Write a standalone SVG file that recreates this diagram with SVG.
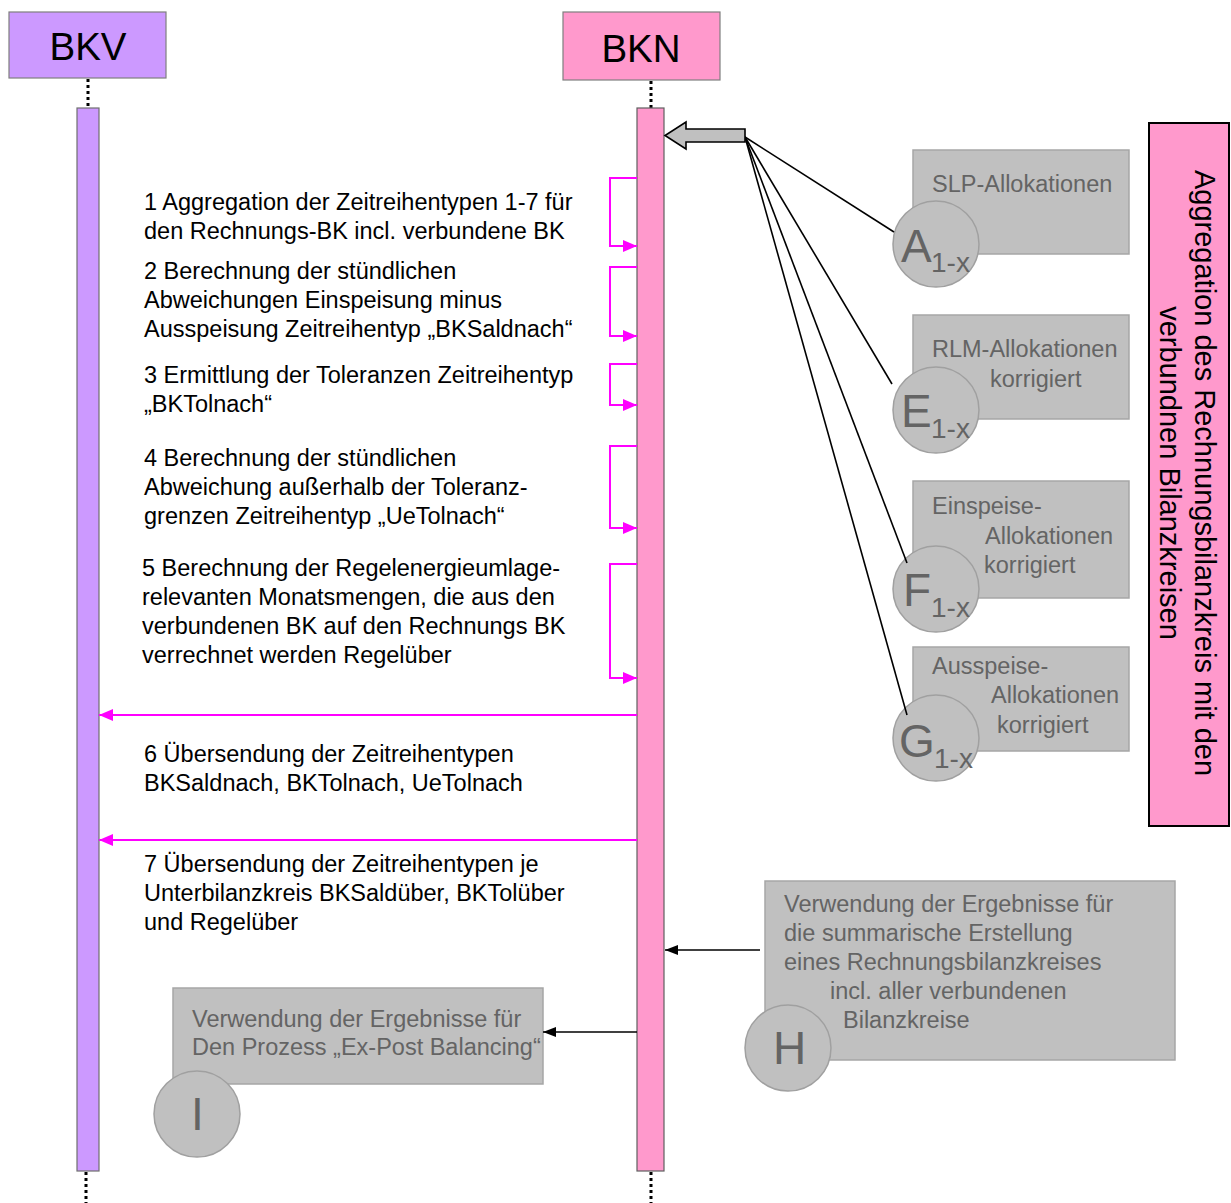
<svg xmlns="http://www.w3.org/2000/svg" width="1231" height="1203" viewBox="0 0 1231 1203">
  <style>
    .lbl { font-family: "Liberation Sans", Arial, sans-serif; font-size: 23.5px; fill: #000; }
    .gtx { font-family: "Liberation Sans", Arial, sans-serif; font-size: 23.5px; fill: #646464; }
    .big { font-family: "Liberation Sans", Arial, sans-serif; font-size: 46px; fill: #646464; }
    .sub { font-family: "Liberation Sans", Arial, sans-serif; font-size: 28px; fill: #646464; }
    .head { font-family: "Liberation Sans", Arial, sans-serif; font-size: 38.5px; fill: #000; text-anchor: middle; }
    .vert { font-family: "Liberation Sans", Arial, sans-serif; font-size: 29px; fill: #000; text-anchor: middle; }
    .gbox { fill: #c0c0c0; stroke: #a6a6a6; stroke-width: 1.5; }
    .gcirc { fill: #c0c0c0; stroke: #a0a0a0; stroke-width: 1.5; }
    .life { stroke: #000; stroke-width: 3; stroke-dasharray: 3 3; fill: none; }
    .mag { stroke: #ff00ff; stroke-width: 2; fill: none; }
    .blk { stroke: #000; stroke-width: 1.6; fill: none; }
  </style>
  <defs>
    <marker id="mArr" markerWidth="14" markerHeight="12" refX="14" refY="6" orient="auto" markerUnits="userSpaceOnUse">
      <path d="M0,0 L14,6 L0,12 Z" fill="#ff00ff"/>
    </marker>
    <marker id="bArr" markerWidth="13" markerHeight="10" refX="13" refY="5" orient="auto" markerUnits="userSpaceOnUse">
      <path d="M0,0 L13,5 L0,10 Z" fill="#000"/>
    </marker>
  </defs>

  <!-- lifelines (dotted parts) -->
  <g id="lifelines">
    <line class="life" x1="88" y1="79" x2="88" y2="108"/>
    <line class="life" x1="651" y1="81" x2="651" y2="108"/>
    <line class="life" x1="86" y1="1172" x2="86" y2="1203"/>
    <line class="life" x1="651" y1="1172" x2="651" y2="1203"/>
  </g>

  <!-- participants -->
  <g id="bkv">
    <rect x="9" y="12" width="157" height="66" fill="#cc99ff" stroke="#7f7f7f" stroke-width="1.2"/>
    <text class="head" x="88" y="60">BKV</text>
    <rect x="77" y="108" width="22" height="1063" fill="#cc99ff" stroke="#6f6f6f" stroke-width="1.2"/>
  </g>
  <g id="bkn">
    <rect x="563" y="12" width="157" height="68" fill="#ff99cc" stroke="#7f7f7f" stroke-width="1.2"/>
    <text class="head" x="641" y="62">BKN</text>
    <rect x="637" y="108" width="27" height="1063" fill="#ff99cc" stroke="#5f5f5f" stroke-width="1.2"/>
  </g>

  <!-- grouping box on the right -->
  <g id="aggregation">
    <rect x="1149" y="123" width="80" height="703" fill="#ff99cc" stroke="#000" stroke-width="2"/>
    <g transform="translate(1189,473) rotate(90)">
      <text class="vert" x="0" y="-6">Aggregation des Rechnungsbilanzkreis mit den</text>
      <text class="vert" x="0" y="29">verbundnen Bilanzkreisen</text>
    </g>
  </g>

  <!-- allocation sources -->
  <g id="nodeA">
    <rect class="gbox" x="913" y="150" width="216" height="104"/>
    <text class="gtx" x="932" y="192">SLP-Allokationen</text>
    <circle class="gcirc" cx="936" cy="244" r="43"/>
    <text class="big" x="901" y="262">A</text><text class="sub" x="931" y="272">1-x</text>
  </g>
  <g id="nodeE">
    <rect class="gbox" x="913" y="315" width="216" height="104"/>
    <text class="gtx" x="932" y="357">RLM-Allokationen</text>
    <text class="gtx" x="990" y="387">korrigiert</text>
    <circle class="gcirc" cx="936" cy="410" r="43"/>
    <text class="big" x="901" y="427">E</text><text class="sub" x="931" y="438">1-x</text>
  </g>
  <g id="nodeF">
    <rect class="gbox" x="913" y="481" width="216" height="117"/>
    <text class="gtx" x="932" y="514">Einspeise-</text>
    <text class="gtx" x="985" y="544">Allokationen</text>
    <text class="gtx" x="984" y="573">korrigiert</text>
    <circle class="gcirc" cx="936" cy="589" r="43"/>
    <text class="big" x="903" y="606">F</text><text class="sub" x="931" y="617">1-x</text>
  </g>
  <g id="nodeG">
    <rect class="gbox" x="913" y="647" width="216" height="104"/>
    <text class="gtx" x="932" y="674">Ausspeise-</text>
    <text class="gtx" x="991" y="703">Allokationen</text>
    <text class="gtx" x="997" y="733">korrigiert</text>
    <circle class="gcirc" cx="936" cy="738" r="43"/>
    <text class="big" x="899" y="757">G</text><text class="sub" x="934" y="768">1-x</text>
  </g>
  <g id="nodeH">
    <rect class="gbox" x="765" y="881" width="410" height="179"/>
    <text class="gtx" x="784" y="912">Verwendung der Ergebnisse für</text>
    <text class="gtx" x="784" y="941">die summarische Erstellung</text>
    <text class="gtx" x="784" y="970">eines Rechnungsbilanzkreises</text>
    <text class="gtx" x="830" y="999">incl. aller verbundenen</text>
    <text class="gtx" x="843" y="1028">Bilanzkreise</text>
    <circle class="gcirc" cx="788" cy="1048" r="43"/>
    <text class="big" x="773" y="1064">H</text>
  </g>
  <g id="nodeI">
    <rect class="gbox" x="173" y="988" width="370" height="96"/>
    <text class="gtx" x="192" y="1027">Verwendung der Ergebnisse für</text>
    <text class="gtx" x="192" y="1055">Den Prozess „Ex-Post Balancing“</text>
    <circle class="gcirc" cx="197" cy="1114" r="43"/>
    <text class="big" x="191" y="1130">I</text>
  </g>

  <!-- step labels -->
  <g id="steps">
    <text class="lbl" x="144" y="210">1 Aggregation der Zeitreihentypen 1-7 für</text>
    <text class="lbl" x="144" y="239">den Rechnungs-BK incl. verbundene BK</text>
    <text class="lbl" x="144" y="279">2 Berechnung der stündlichen</text>
    <text class="lbl" x="144" y="308">Abweichungen Einspeisung minus</text>
    <text class="lbl" x="144" y="337">Ausspeisung Zeitreihentyp „BKSaldnach“</text>
    <text class="lbl" x="144" y="383">3 Ermittlung der Toleranzen Zeitreihentyp</text>
    <text class="lbl" x="144" y="412">„BKTolnach“</text>
    <text class="lbl" x="144" y="466">4 Berechnung der stündlichen</text>
    <text class="lbl" x="144" y="495">Abweichung außerhalb der Toleranz-</text>
    <text class="lbl" x="144" y="524">grenzen Zeitreihentyp „UeTolnach“</text>
    <text class="lbl" x="142" y="576">5 Berechnung der Regelenergieumlage-</text>
    <text class="lbl" x="142" y="605">relevanten Monatsmengen, die aus den</text>
    <text class="lbl" x="142" y="634">verbundenen BK auf den Rechnungs BK</text>
    <text class="lbl" x="142" y="663">verrechnet werden Regelüber</text>
    <text class="lbl" x="144" y="762">6 Übersendung der Zeitreihentypen</text>
    <text class="lbl" x="144" y="791">BKSaldnach, BKTolnach, UeTolnach</text>
    <text class="lbl" x="144" y="872">7 Übersendung der Zeitreihentypen je</text>
    <text class="lbl" x="144" y="901">Unterbilanzkreis BKSaldüber, BKTolüber</text>
    <text class="lbl" x="144" y="930">und Regelüber</text>
  </g>

  <!-- connectors -->
  <g id="connectors">
    <!-- self messages on BKN -->
    <path class="mag" d="M637,178 H610 V246 H637" marker-end="url(#mArr)"/>
    <path class="mag" d="M637,267 H610 V336 H637" marker-end="url(#mArr)"/>
    <path class="mag" d="M637,364 H610 V405 H637" marker-end="url(#mArr)"/>
    <path class="mag" d="M637,446 H610 V528 H637" marker-end="url(#mArr)"/>
    <path class="mag" d="M637,564 H610 V678 H637" marker-end="url(#mArr)"/>
    <!-- messages BKN to BKV -->
    <line class="mag" x1="637" y1="715" x2="99" y2="715" marker-end="url(#mArr)"/>
    <line class="mag" x1="637" y1="840" x2="99" y2="840" marker-end="url(#mArr)"/>
    <!-- result usage -->
    <line class="blk" x1="760" y1="950" x2="665" y2="950" marker-end="url(#bArr)"/>
    <line class="blk" x1="637" y1="1032" x2="543" y2="1032" marker-end="url(#bArr)"/>
    <!-- allocation inputs -->
    <line class="blk" x1="745" y1="137" x2="894" y2="232"/>
    <line class="blk" x1="745" y1="137" x2="892" y2="384"/>
    <line class="blk" x1="745" y1="137" x2="907" y2="563"/>
    <line class="blk" x1="745" y1="137" x2="907" y2="715"/>
    <!-- block arrow into BKN -->
    <path d="M745,129 H686 V122 L665,135.5 L686,149 V142 H745 Z" fill="#c0c0c0" stroke="#000" stroke-width="1.6" stroke-linejoin="miter"/>
  </g>
</svg>
